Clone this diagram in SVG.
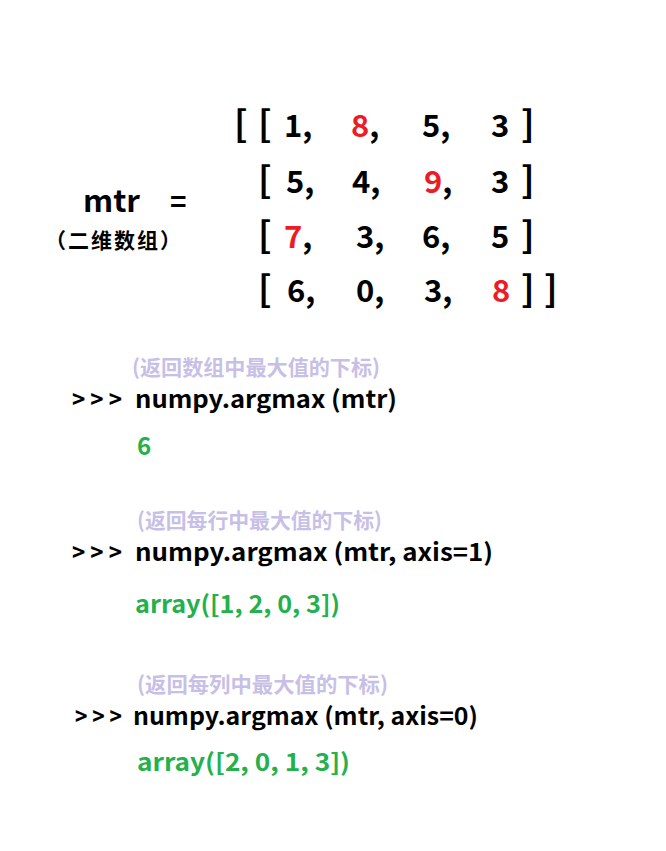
<svg xmlns="http://www.w3.org/2000/svg" width="666" height="851" viewBox="0 0 666 851">
<style>
text{font-family:"Noto Sans CJK SC","Noto Sans",sans-serif;font-weight:bold}
.d{font-size:31px;fill:#000}
.r{fill:#ed1c24}
.b{font-size:36px;fill:#000}
.note{font-size:21px;fill:#c8bfe7}
.cmd{font-size:24px;fill:#000}
.out{font-size:24px;fill:#22b14c}
</style>
<rect width="666" height="851" fill="#fff"/>
<g id="matrix">
<text class="b" x="234" y="137">[</text>
<text class="b" x="258" y="137">[</text>
<text class="d" x="284" y="137">1,</text>
<text class="d" x="351" y="137"><tspan class="r">8</tspan>,</text>
<text class="d" x="422" y="137">5,</text>
<text class="d" x="491" y="137">3</text>
<text class="b" x="521" y="137">]</text>

<text class="b" x="258" y="193">[</text>
<text class="d" x="286" y="193">5,</text>
<text class="d" x="352" y="193">4,</text>
<text class="d" x="424" y="193"><tspan class="r">9</tspan>,</text>
<text class="d" x="491" y="193">3</text>
<text class="b" x="521" y="193">]</text>

<text class="b" x="258" y="248">[</text>
<text class="d" x="284" y="248"><tspan class="r">7</tspan>,</text>
<text class="d" x="356" y="248">3,</text>
<text class="d" x="422" y="248">6,</text>
<text class="d" x="491" y="248">5</text>
<text class="b" x="521" y="248">]</text>

<text class="b" x="258" y="302">[</text>
<text class="d" x="287" y="302">6,</text>
<text class="d" x="356" y="302">0,</text>
<text class="d" x="424" y="302">3,</text>
<text class="d r" x="492" y="302">8</text>
<text class="b" x="521" y="302">]</text>
<text class="b" x="544" y="302">]</text>
</g>
<g id="label">
<text x="83" y="212" font-size="30" textLength="57" lengthAdjust="spacingAndGlyphs">mtr</text>
<text x="170" y="212" font-size="28">=</text>
<text x="45" y="248" font-size="21" letter-spacing="2">（二维数组）</text>
</g>
<g id="ex1">
<text class="note" x="132" y="375" textLength="248" lengthAdjust="spacingAndGlyphs">(返回数组中最大值的下标)</text>
<text class="cmd" x="72" y="408" textLength="50" lengthAdjust="spacingAndGlyphs">&gt; &gt; &gt;</text>
<text class="cmd" x="135" y="408" textLength="262" lengthAdjust="spacingAndGlyphs">numpy.argmax (mtr)</text>
<text class="out" x="137" y="455" font-size="26">6</text>
</g>
<g id="ex2">
<text class="note" x="137" y="528" textLength="245" lengthAdjust="spacingAndGlyphs">(返回每行中最大值的下标)</text>
<text class="cmd" x="72" y="561" textLength="50" lengthAdjust="spacingAndGlyphs">&gt; &gt; &gt;</text>
<text class="cmd" x="135" y="561" textLength="358" lengthAdjust="spacingAndGlyphs">numpy.argmax (mtr, axis=1)</text>
<text class="out" x="135" y="613" textLength="205" lengthAdjust="spacingAndGlyphs">array([1, 2, 0, 3])</text>
</g>
<g id="ex3">
<text class="note" x="137" y="692" textLength="251" lengthAdjust="spacingAndGlyphs">(返回每列中最大值的下标)</text>
<text class="cmd" x="75" y="725" textLength="47" lengthAdjust="spacingAndGlyphs">&gt; &gt; &gt;</text>
<text class="cmd" x="133" y="725" textLength="345" lengthAdjust="spacingAndGlyphs">numpy.argmax (mtr, axis=0)</text>
<text class="out" x="137" y="771" textLength="213" lengthAdjust="spacingAndGlyphs">array([2, 0, 1, 3])</text>
</g>
</svg>
